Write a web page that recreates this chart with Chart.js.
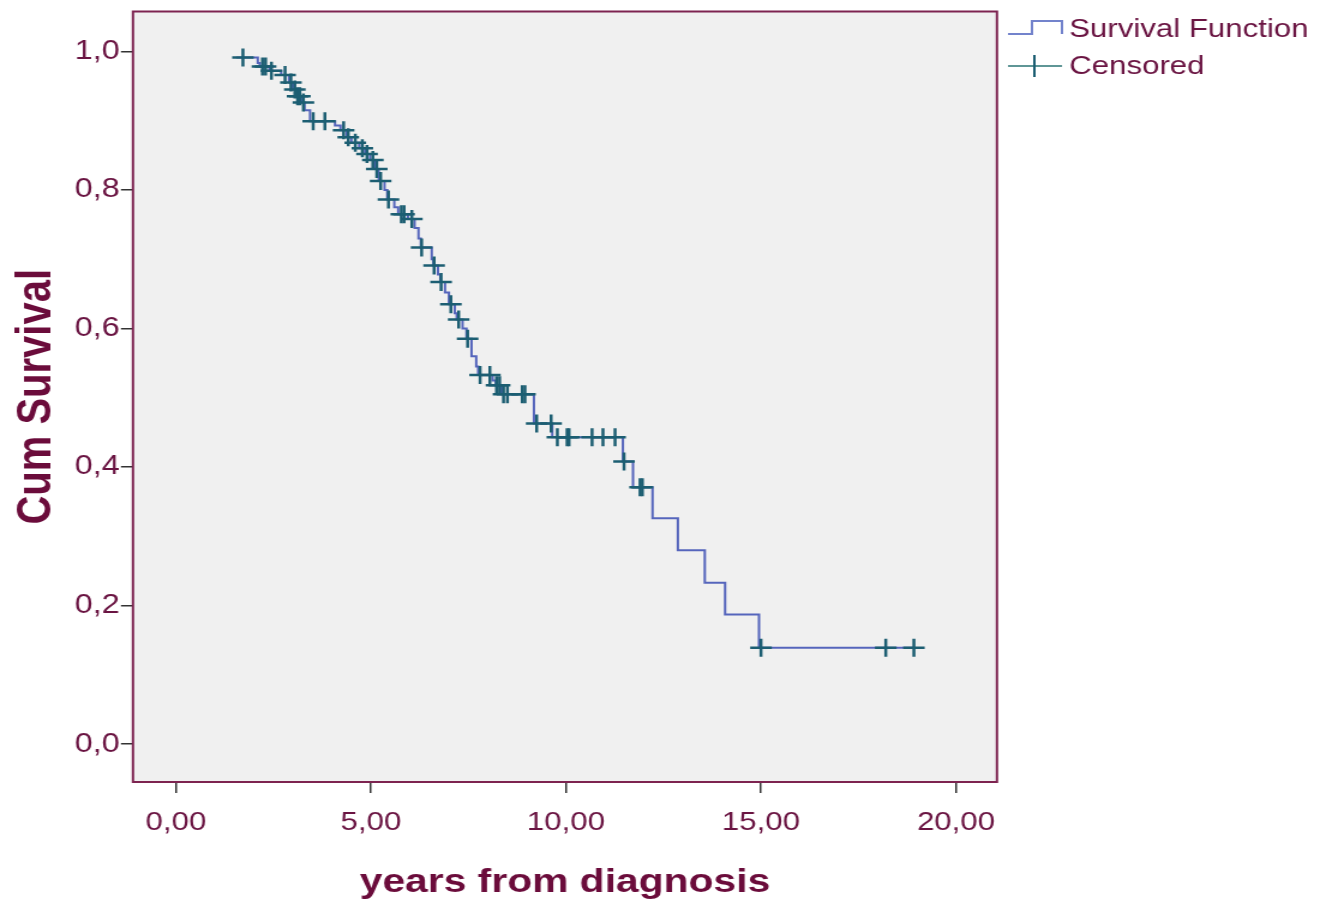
<!DOCTYPE html>
<html>
<head>
<meta charset="utf-8">
<script src="https://cdn.jsdelivr.net/npm/chart.js@4.4.0/dist/chart.umd.min.js"></script>
<style>
html, body { margin: 0; padding: 0; background: #fff; overflow: hidden; }
#wrap { width: 1100px; height: 903px; transform: scaleX(1.2); transform-origin: 0 0; }
</style>
</head>
<body>
<div id="wrap"><canvas id="km"></canvas></div>
<script>
// Kaplan-Meier curve: corner points of the step function (time, survival after step)
var survTimes = [1.55, 2.10, 2.15, 2.40, 2.70, 2.90, 3.00, 3.10, 3.22, 3.30, 3.44,
	4.08, 4.22, 4.38, 4.50, 4.70, 4.85, 4.98, 5.10, 5.20, 5.35, 5.42, 5.60, 5.70,
	5.95, 6.12, 6.22, 6.28, 6.56, 6.60, 6.72, 6.78, 6.90, 7.00, 7.15, 7.20, 7.35,
	7.45, 7.58, 7.70, 7.75, 8.12, 8.20, 8.35, 9.18, 9.65, 11.46, 11.72, 12.22,
	12.87, 13.56, 14.08, 14.95, 18.92];
var survValues = [0.991, 0.983, 0.978, 0.972, 0.966, 0.955, 0.945, 0.935, 0.926, 0.915, 0.899,
	0.893, 0.886, 0.876, 0.868, 0.860, 0.852, 0.843, 0.830, 0.813, 0.800, 0.786, 0.775, 0.765,
	0.758, 0.745, 0.730, 0.717, 0.700, 0.691, 0.678, 0.667, 0.652, 0.635, 0.622, 0.613, 0.600,
	0.585, 0.560, 0.545, 0.533, 0.525, 0.518, 0.505, 0.463, 0.443, 0.408, 0.371, 0.326,
	0.280, 0.233, 0.187, 0.139, 0.139];

// censored cases
var censorTimes = [1.72, 2.22, 2.30, 2.45, 2.80, 2.95, 3.05, 3.12, 3.18, 3.27, 3.52, 3.82,
	4.30, 4.42, 4.60, 4.78, 4.90, 5.05, 5.15, 5.25, 5.45, 5.78, 5.85, 6.05, 6.30, 6.62,
	6.80, 7.05, 7.25, 7.48, 7.80, 8.05, 8.22, 8.30, 8.40, 8.50, 8.88, 8.95, 9.25, 9.62,
	9.78, 10.03, 10.08, 10.67, 10.95, 11.26, 11.49, 11.90, 11.96, 15.00, 18.20, 18.92];
var censorValues = [0.991, 0.978, 0.978, 0.972, 0.966, 0.955, 0.945, 0.935, 0.935, 0.926, 0.899, 0.899,
	0.886, 0.876, 0.868, 0.860, 0.852, 0.843, 0.830, 0.813, 0.786, 0.765, 0.765, 0.758, 0.717, 0.691,
	0.667, 0.635, 0.613, 0.585, 0.533, 0.533, 0.518, 0.518, 0.505, 0.505, 0.505, 0.505, 0.463, 0.463,
	0.443, 0.443, 0.443, 0.443, 0.443, 0.443, 0.408, 0.371, 0.371, 0.139, 0.139, 0.139];

var xTicks = [0, 5, 10, 15, 20];
var yTicks = [0, 0.2, 0.4, 0.6, 0.8, 1.0];
var legendLabels = ["Survival Function", "Censored"];

var lineColor = "#5565bc";
var censorColor = "#1c5e72";
var textColor = "#6a1442";
var titleColor = "#6b0c3b";
var frameColor = "#7d2350";

Chart.defaults.font.family = "'Liberation Sans', Arial, sans-serif";

function pts(xs, ys) {
	return xs.map((x, i) => ({ x: x, y: ys[i] }));
}

// panel background, frame and the SPSS style legend
var spssPlugin = {
	id: "spss",
	beforeDraw: function (chart) {
		var ctx = chart.ctx, a = chart.chartArea;
		ctx.save();
		ctx.fillStyle = "#ffffff";
		ctx.fillRect(0, 0, chart.width, chart.height);
		ctx.fillStyle = "#f0f0f0";
		ctx.fillRect(a.left, a.top, a.right - a.left, a.bottom - a.top);
		ctx.restore();
	},
	afterDraw: function (chart) {
		var ctx = chart.ctx, a = chart.chartArea;
		ctx.save();
		ctx.strokeStyle = frameColor;
		ctx.lineWidth = 2;
		ctx.strokeRect(a.left, a.top, a.right - a.left, a.bottom - a.top);

		// legend icons
		ctx.lineWidth = 2;
		ctx.strokeStyle = "#7383cc";
		ctx.beginPath();
		ctx.moveTo(840, 34);
		ctx.lineTo(860, 34);
		ctx.lineTo(860, 21);
		ctx.lineTo(885, 21);
		ctx.lineTo(885, 34);
		ctx.stroke();

		ctx.strokeStyle = "#5f9696";
		ctx.beginPath();
		ctx.moveTo(840, 66);
		ctx.lineTo(885, 66);
		ctx.stroke();
		ctx.strokeStyle = censorColor;
		ctx.beginPath();
		ctx.moveTo(862, 55);
		ctx.lineTo(862, 77);
		ctx.stroke();

		ctx.fillStyle = textColor;
		ctx.font = "26px 'Liberation Sans', Arial, sans-serif";
		ctx.textBaseline = "middle";
		ctx.fillText(legendLabels[0], 891, 30);
		ctx.fillText(legendLabels[1], 891, 67);
		ctx.restore();
	}
};

new Chart(document.getElementById("km"), {
	type: "scatter",
	data: {
		datasets: [
			{
				label: legendLabels[1],
				data: pts(censorTimes, censorValues),
				pointStyle: "cross",
				pointRadius: 9,
				pointBorderWidth: 2.5,
				borderColor: censorColor,
				backgroundColor: censorColor,
				showLine: false
			},
			{
				label: legendLabels[0],
				data: pts(survTimes, survValues),
				showLine: true,
				stepped: "before",
				borderColor: lineColor,
				borderWidth: 2,
				pointRadius: 0
			}
		]
	},
	options: {
		responsive: true,
		maintainAspectRatio: false,
		animation: false,
		events: [],
		layout: { padding: { top: 2, right: 269.2, bottom: 0, left: 0 } },
		plugins: {
			legend: { display: false },
			tooltip: { enabled: false }
		},
		scales: {
			x: {
				type: "linear",
				min: -1.1,
				max: 21.05,
				afterBuildTicks: function (axis) {
					axis.ticks = xTicks.map(v => ({ value: v }));
				},
				afterFit: function (axis) {
					axis.height = 121;
					axis.paddingLeft = 0;
					axis.paddingRight = 0;
				},
				ticks: {
					color: textColor,
					font: { size: 26 },
					padding: 14,
					maxRotation: 0,
					callback: function (v) {
						return v.toFixed(2).replace(".", ",");
					}
				},
				grid: {
					drawOnChartArea: false,
					drawTicks: true,
					tickLength: 11,
					color: "#333333",
					lineWidth: 1.5
				},
				border: { display: false },
				title: {
					display: true,
					text: "years from diagnosis",
					color: titleColor,
					font: { size: 34, weight: "bold" },
					padding: { top: 0, bottom: 0 }
				}
			},
			y: {
				type: "linear",
				min: -0.0546,
				max: 1.0575,
				afterBuildTicks: function (axis) {
					axis.ticks = yTicks.map(v => ({ value: v }));
				},
				afterFit: function (axis) {
					axis.width = 110.8;
					axis.paddingTop = 0;
					axis.paddingBottom = 0;
				},
				ticks: {
					color: textColor,
					font: { size: 27 },
					padding: 1,
					callback: function (v) {
						return v.toFixed(1).replace(".", ",");
					}
				},
				grid: {
					drawOnChartArea: false,
					drawTicks: true,
					tickLength: 10,
					color: "#333333",
					lineWidth: 1.5
				},
				border: { display: false },
				title: {
					display: true,
					text: "Cum Survival",
					color: titleColor,
					font: { size: 40, weight: "bold" },
					padding: { top: 7, bottom: 0 }
				}
			}
		}
	},
	plugins: [spssPlugin]
});
</script>
</body>
</html>
